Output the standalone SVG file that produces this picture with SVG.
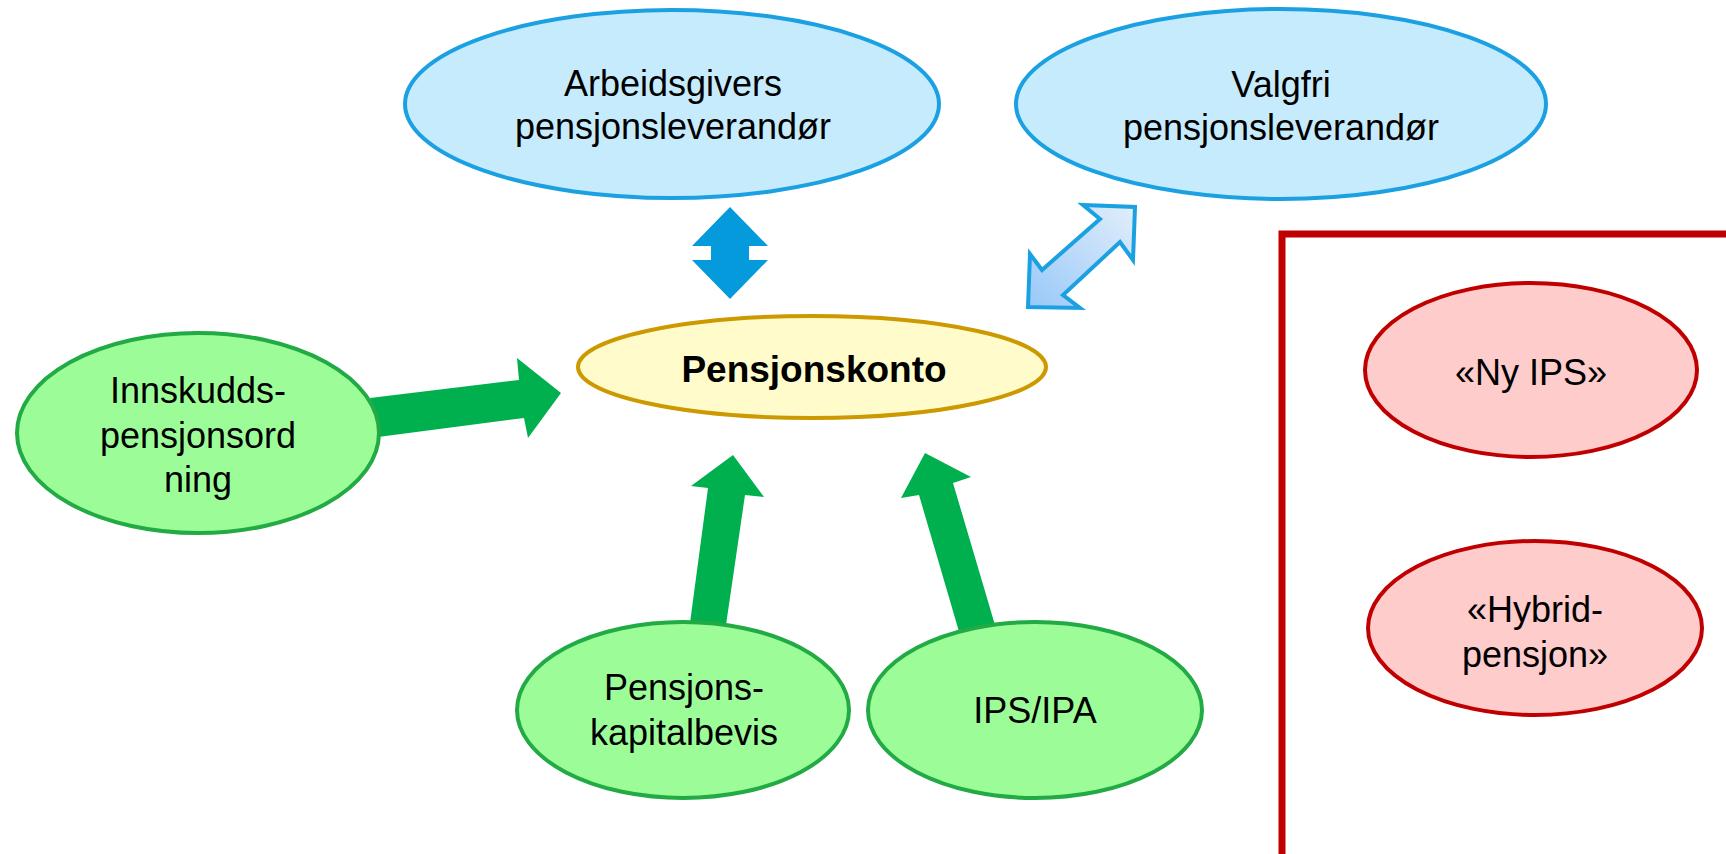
<svg xmlns="http://www.w3.org/2000/svg" width="1726" height="854" viewBox="0 0 1726 854">
<defs>
<style>
.blue{fill:#C6EBFD;stroke:#1BA1E2;stroke-width:4}
.green{fill:#9CFD98;stroke:#22AA44;stroke-width:4}
.red{fill:#FFCCCC;stroke:#C00000;stroke-width:4}
.yellow{fill:#FFFBCA;stroke:#CC9900;stroke-width:4}
.t{font-family:"Liberation Sans",Arial,sans-serif;font-size:36px;fill:#000;text-anchor:middle}
.b{font-weight:bold;font-size:37px}
.garrow{fill:#00B04F}
</style>
<linearGradient id="dg" x1="0" y1="1" x2="1" y2="0">
<stop offset="0" stop-color="#98C8F8"/>
<stop offset="1" stop-color="#E2EEFB"/>
</linearGradient>
</defs>
<rect width="1726" height="854" fill="#FFFFFF"/>
<g id="frame"><path d="M1282 854 V234 H1726" fill="none" stroke="#C00000" stroke-width="7"/></g>
<g id="connectors">
<polygon points="730,207 768,246 749,246 749,260 768,260 730,299 692,260 711,260 711,246 692,246" fill="#049ADC"/>
<polygon points="1135,207 1133,260 1120,242 1063,295 1080,308 1028,307 1030,254 1042,270 1100,219 1083,205" fill="url(#dg)" stroke="#1BA1E2" stroke-width="4"/>
<polygon class="garrow" points="370,398 519,380 517,358 561,393 528,438 524,418 378,437"/>
<polygon class="garrow" points="690,623 708,488 691,486 733,455 764,497 745,495 726,625"/>
<polygon class="garrow" points="960,635 919,495 901,498 925,453 971,477 953,483 995,625"/>
</g>
<g id="arbeidsgivers">
<ellipse class="blue" cx="672" cy="104" rx="267" ry="94"/>
<text class="t" x="673" y="96">Arbeidsgivers</text>
<text class="t" x="673" y="139">pensjonsleverandør</text>
</g>
<g id="valgfri">
<ellipse class="blue" cx="1281" cy="104" rx="265" ry="95"/>
<text class="t" x="1281" y="97">Valgfri</text>
<text class="t" x="1281" y="140">pensjonsleverandør</text>
</g>
<g id="pensjonskonto">
<ellipse class="yellow" cx="812" cy="367" rx="234" ry="51"/>
<text class="t b" x="814" y="382">Pensjonskonto</text>
</g>
<g id="innskudd">
<ellipse class="green" cx="198" cy="433" rx="181" ry="100"/>
<text class="t" x="198" y="403">Innskudds-</text>
<text class="t" x="198" y="448">pensjonsord</text>
<text class="t" x="198" y="492">ning</text>
</g>
<g id="kapitalbevis">
<ellipse class="green" cx="683" cy="710" rx="166" ry="88"/>
<text class="t" x="684" y="700">Pensjons-</text>
<text class="t" x="684" y="745">kapitalbevis</text>
</g>
<g id="ips">
<ellipse class="green" cx="1035" cy="710" rx="167" ry="88"/>
<text class="t" x="1035" y="723">IPS/IPA</text>
</g>
<g id="nyips">
<ellipse class="red" cx="1531" cy="370" rx="166" ry="87"/>
<text class="t" x="1531" y="385">«Ny IPS»</text>
</g>
<g id="hybrid">
<ellipse class="red" cx="1535" cy="628" rx="167" ry="87"/>
<text class="t" x="1535" y="622">«Hybrid-</text>
<text class="t" x="1535" y="667">pensjon»</text>
</g>
</svg>
